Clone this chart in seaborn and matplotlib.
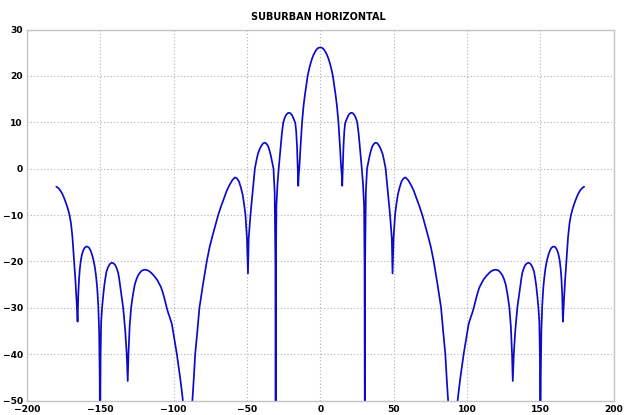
import matplotlib
matplotlib.use("Agg")
import matplotlib.pyplot as plt
import pandas as pd
import seaborn as sns

# ---- data: (angle in degrees, gain in dB) ----
pattern_left = [
    (-180, -3.9), (-179, -4.1), (-178, -4.4), (-177, -4.85), (-176, -5.4), (-175, -6.1), (-174, -6.9),
    (-173, -7.8), (-172, -8.8), (-171, -10), (-170, -11.8), (-169, -14.8), (-168, -19.5), (-167, -24),
    (-166.2, -28.5), (-165.5, -33),
    (-165, -27), (-164.5, -23.8), (-164, -21.7), (-163.3, -19.8), (-162.5, -18.5), (-161.6, -17.6),
    (-160.6, -17.05), (-159.6, -16.8), (-158.6, -16.85), (-157.6, -17.1), (-156.6, -17.7), (-155.6, -18.6),
    (-154.6, -19.8), (-153.7, -21.3), (-152.9, -23.2), (-152.1, -25.8), (-151.4, -29.5), (-150.8, -35),
    (-150.4, -45), (-150.2, -65),
    (-149.8, -40), (-149.4, -33), (-148.8, -30), (-148, -27.3), (-147.2, -25), (-146.5, -23.5),
    (-145.8, -22.2), (-144.8, -21.3), (-143.8, -20.7), (-142.9, -20.4), (-142, -20.3), (-140.9, -20.45),
    (-139.8, -20.8), (-138.8, -21.5), (-137.8, -22.5), (-137.2, -23.6), (-136.6, -25), (-135.5, -27.5),
    (-134.4, -30), (-133, -35), (-132, -40), (-131.3, -45.8),
    (-130.8, -40), (-130, -34), (-129, -30), (-127.8, -27.3), (-126.5, -25), (-125.3, -23.8), (-124.2, -23),
    (-122.9, -22.4), (-121.7, -22), (-120.5, -21.85), (-119.3, -21.8), (-118, -21.9), (-116.7, -22.1),
    (-115.2, -22.5), (-113.7, -23), (-112.4, -23.5), (-111.2, -24), (-110, -24.7), (-108.7, -25.5),
    (-107.7, -26.4), (-106.7, -27.5), (-105.7, -28.7), (-104.7, -30), (-103.7, -31.1), (-102.7, -32),
    (-101.9, -32.8), (-101.2, -33.5), (-100.4, -35), (-99.6, -36.5), (-98.7, -38.3), (-97.8, -40),
    (-96.7, -42.5), (-95.6, -45), (-94.6, -47.5), (-93.7, -50), (-91.6, -60), (-90.2, -70),
    (-88.7, -60), (-87.2, -50), (-86.2, -45), (-85.3, -40), (-83.8, -35), (-82.4, -30), (-80, -25),
    (-77.4, -20), (-75.5, -17), (-73.5, -14.5), (-71.5, -12.2), (-69.6, -10), (-67.5, -8), (-65.5, -6.3),
    (-63.8, -4.8), (-62, -3.6), (-60, -2.5), (-58.2, -1.9), (-56.8, -2.1), (-55.4, -2.8), (-54.2, -4),
    (-53, -5.5), (-52, -7.5), (-51, -10), (-50, -15), (-49.3, -22.6),
    (-48.8, -15), (-47.6, -10), (-46.1, -5), (-44.6, 0), (-43.5, 1.8), (-42.5, 3.2), (-41.2, 4.3),
    (-40, 5.0), (-38.8, 5.5), (-37.6, 5.6), (-36.5, 5.3), (-35.5, 4.8), (-34.6, 3.9), (-33.7, 2.8),
    (-32.8, 1.4), (-31.9, 0), (-31.1, -5), (-30.6, -20), (-30.4, -65),
    (-30.2, -20), (-29.9, -8), (-29.1, -3), (-28.2, 0.5), (-27.2, 4), (-26.2, 7.5), (-25.2, 10),
    (-24.2, 11), (-23.2, 11.6), (-22.2, 11.95), (-21.2, 12.05), (-20.2, 11.9), (-19.2, 11.5),
    (-18.2, 10.8), (-17, 9.8), (-16.4, 8), (-15.8, 4.5), (-15.4, 0.5), (-15, -3.7),
    (-14.7, -1.5), (-14.2, 0.5), (-13.4, 5), (-12.4, 10), (-11.4, 13.5), (-10.5, 15.8), (-9.5, 18),
    (-8.6, 20), (-7.5, 21.6), (-6.5, 22.8), (-5.5, 23.8), (-4.5, 24.6), (-3.5, 25.2), (-2.5, 25.7),
    (-1.5, 26), (0, 26.15),
]

pattern_right = [
    (1.5, 26), (2.5, 25.7), (3.5, 25.2), (4.5, 24.6), (5.5, 23.8), (6.5, 22.8), (7.5, 21.6), (8.6, 20),
    (9.5, 18), (10.5, 15.8), (11.4, 13.5), (12.4, 10), (13.4, 5), (14.2, 0.5), (14.7, -1.5),
    (15, -3.7), (15.4, 0.5), (15.8, 4.5), (16.4, 8), (17, 9.8), (18.2, 10.8), (19.2, 11.5), (20.2, 11.9),
    (21.2, 12.05), (22.2, 11.95), (23.2, 11.6), (24.2, 11), (25.2, 10), (26.2, 7.5), (27.2, 4),
    (28.2, 0.5), (29.1, -3), (29.9, -8), (30.2, -20),
    (30.4, -65), (30.6, -20), (31.1, -5), (31.9, 0), (32.8, 1.4), (33.7, 2.8), (34.6, 3.9), (35.5, 4.8),
    (36.5, 5.3), (37.6, 5.6), (38.8, 5.5), (40, 5.0), (41.2, 4.3), (42.5, 3.2), (43.5, 1.8), (44.6, 0),
    (46.1, -5), (47.6, -10), (48.8, -15),
    (49.3, -22.6), (50, -15), (51, -10), (52, -7.5), (53, -5.5), (54.2, -4), (55.4, -2.8), (56.8, -2.1),
    (58.2, -1.9), (60, -2.5), (62, -3.6), (63.8, -4.8), (65.5, -6.3), (67.5, -8), (69.6, -10),
    (71.5, -12.2), (73.5, -14.5), (75.5, -17), (77.4, -20), (80, -25), (82.4, -30), (83.8, -35),
    (85.3, -40), (86.2, -45), (87.2, -50), (88.7, -60),
    (90.2, -70), (91.6, -60), (93.7, -50), (94.6, -47.5), (95.6, -45), (96.7, -42.5), (97.8, -40),
    (98.7, -38.3), (99.6, -36.5), (100.4, -35), (101.2, -33.5), (101.9, -32.8), (102.7, -32),
    (103.7, -31.1), (104.7, -30), (105.7, -28.7), (106.7, -27.5), (107.7, -26.4), (108.7, -25.5),
    (110, -24.7), (111.2, -24), (112.4, -23.5), (113.7, -23), (115.2, -22.5), (116.7, -22.1),
    (118, -21.9), (119.3, -21.8), (120.5, -21.85), (121.7, -22), (122.9, -22.4), (124.2, -23),
    (125.3, -23.8), (126.5, -25), (127.8, -27.3), (129, -30), (130, -34), (130.8, -40),
    (131.3, -45.8), (132, -40), (133, -35), (134.4, -30), (135.5, -27.5), (136.6, -25), (137.2, -23.6),
    (137.8, -22.5), (138.8, -21.5), (139.8, -20.8), (140.9, -20.45), (142, -20.3), (142.9, -20.4),
    (143.8, -20.7), (144.8, -21.3), (145.8, -22.2), (146.5, -23.5), (147.2, -25), (148, -27.3),
    (148.8, -30), (149.4, -33), (149.8, -40),
    (150.2, -65), (150.4, -45), (150.8, -35), (151.4, -29.5), (152.1, -25.8), (152.9, -23.2),
    (153.7, -21.3), (154.6, -19.8), (155.6, -18.6), (156.6, -17.7), (157.6, -17.1), (158.6, -16.85),
    (159.6, -16.8), (160.6, -17.05), (161.6, -17.6), (162.5, -18.5), (163.3, -19.8), (164, -21.7),
    (164.5, -23.8), (165, -27),
    (165.5, -33), (166.2, -28.5), (167, -24), (168, -19.5), (169, -14.8), (170, -11.8), (171, -10),
    (172, -8.8), (173, -7.8), (174, -6.9), (175, -6.1), (176, -5.4), (177, -4.85), (178, -4.4),
    (179, -4.1), (180, -3.9),
]

x_ticks = [-200, -150, -100, -50, 0, 50, 100, 150, 200]
y_ticks = [-50, -40, -30, -20, -10, 0, 10, 20, 30]
title = "SUBURBAN HORIZONTAL"

points = pattern_left + pattern_right
df = pd.DataFrame({"angle": [p[0] for p in points],
                   "gain": [p[1] for p in points]})

sns.set_style("white")
plt.rcParams["font.family"] = ["DejaVu Sans"]
plt.rcParams["text.color"] = "black"
plt.rcParams["xtick.labelcolor"] = "black"
plt.rcParams["ytick.labelcolor"] = "black"

W, H = 624, 415
fig = plt.figure(figsize=(W / 100, H / 100), dpi=100)
ax = fig.add_axes([27 / W, 1 - 400.5 / H, (613.5 - 27) / W, (400.5 - 29.5) / H])

sns.lineplot(data=df, x="angle", y="gain", ax=ax, color="#0c0cc8",
             linewidth=1.25, estimator=None, sort=False)

ax.set_xlim(-200, 200)
ax.set_ylim(-50, 30)
ax.set_xticks(x_ticks)
ax.set_yticks(y_ticks)
ax.set_xlabel("")
ax.set_ylabel("")
ax.grid(True, linestyle=(0, (1, 2)), color="#b0b0b0", linewidth=0.8)
ax.set_axisbelow(True)
for s in ax.spines.values():
    s.set_color("#c4c4c4")
    s.set_linewidth(1.0)
ax.tick_params(axis="both", direction="in", length=3, color="#b0b0b0",
               labelsize=6.6, pad=3, labelcolor="black")
ax.tick_params(axis="x", pad=3.5)
for lab in ax.get_xticklabels() + ax.get_yticklabels():
    lab.set_fontweight("bold")

fig.text(318.7 / W, 1 - 17 / H, title, ha="center", va="center",
         fontsize=7, fontweight="bold", color="black")

fig.savefig("out.png", dpi=100, facecolor="white")
